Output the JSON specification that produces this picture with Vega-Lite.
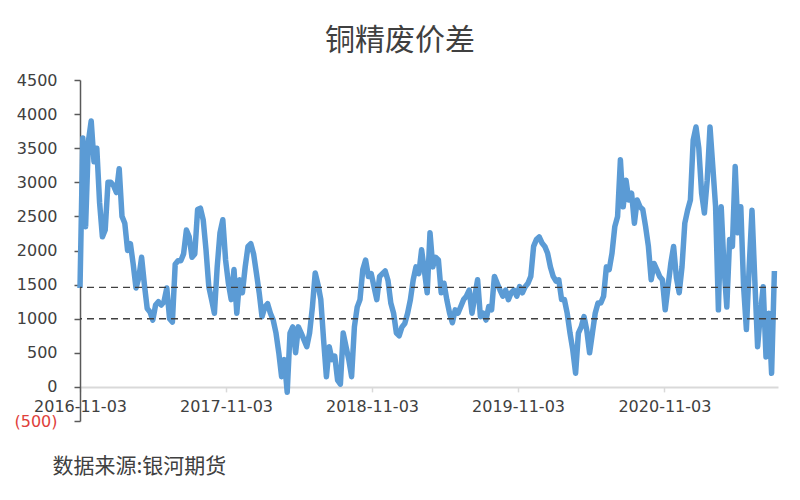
{
  "$schema": "https://vega.github.io/schema/vega-lite/v6.json",
  "width": 698,
  "height": 341,
  "autosize": {"type": "none"},
  "padding": {"left": 80, "top": 80, "right": 22, "bottom": 79},
  "background": "white",
  "title": {"text": "铜精废价差", "font": "Noto Sans CJK SC", "fontSize": 30, "fontWeight": "normal", "color": "#404040", "anchor": "middle", "dx": -29, "offset": 16},
  "config": {"view": {"stroke": null}, "axis": {"labelOverlap": false}},
  "layer": [
    {
      "data": {"values": [
        {"d":"2016-11-03","v":1450},{"d":"2016-11-10","v":3650},{"d":"2016-11-17","v":2350},{"d":"2016-11-24","v":3600},{"d":"2016-12-01","v":3900},{"d":"2016-12-08","v":3300},{"d":"2016-12-15","v":3500},{"d":"2016-12-22","v":2700},{"d":"2016-12-29","v":2200},
        {"d":"2017-01-05","v":2300},{"d":"2017-01-12","v":3000},{"d":"2017-01-19","v":3000},{"d":"2017-01-26","v":2950},{"d":"2017-02-02","v":2850},{"d":"2017-02-09","v":3200},{"d":"2017-02-16","v":2500},{"d":"2017-02-23","v":2400},{"d":"2017-03-02","v":2000},{"d":"2017-03-09","v":2100},{"d":"2017-03-16","v":1800},{"d":"2017-03-23","v":1450},{"d":"2017-03-30","v":1600},{"d":"2017-04-06","v":1900},{"d":"2017-04-13","v":1500},{"d":"2017-04-20","v":1150},{"d":"2017-04-27","v":1100},{"d":"2017-05-04","v":980},{"d":"2017-05-11","v":1200},{"d":"2017-05-18","v":1250},{"d":"2017-05-25","v":1200},{"d":"2017-06-01","v":1250},{"d":"2017-06-08","v":1450},{"d":"2017-06-15","v":1000},{"d":"2017-06-22","v":950},{"d":"2017-06-29","v":1800},{"d":"2017-07-06","v":1850},{"d":"2017-07-13","v":1850},{"d":"2017-07-20","v":1950},{"d":"2017-07-27","v":2300},{"d":"2017-08-03","v":2200},{"d":"2017-08-10","v":1900},{"d":"2017-08-17","v":1950},{"d":"2017-08-24","v":2600},{"d":"2017-08-31","v":2620},{"d":"2017-09-07","v":2450},{"d":"2017-09-14","v":2010},{"d":"2017-09-21","v":1470},{"d":"2017-09-28","v":1280},{"d":"2017-10-05","v":1080},{"d":"2017-10-12","v":1760},{"d":"2017-10-19","v":2260},{"d":"2017-10-26","v":2450},{"d":"2017-11-02","v":1860},{"d":"2017-11-09","v":1520},{"d":"2017-11-16","v":1280},{"d":"2017-11-23","v":1720},{"d":"2017-11-30","v":1080},{"d":"2017-12-07","v":1570},{"d":"2017-12-14","v":1380},{"d":"2017-12-21","v":1760},{"d":"2017-12-28","v":2060},
        {"d":"2018-01-04","v":2100},{"d":"2018-01-11","v":1950},{"d":"2018-01-18","v":1670},{"d":"2018-01-25","v":1380},{"d":"2018-02-01","v":1030},{"d":"2018-02-08","v":1170},{"d":"2018-02-15","v":1220},{"d":"2018-02-22","v":1080},{"d":"2018-03-01","v":980},{"d":"2018-03-08","v":790},{"d":"2018-03-15","v":500},{"d":"2018-03-22","v":150},{"d":"2018-03-29","v":400},{"d":"2018-04-05","v":-80},{"d":"2018-04-12","v":790},{"d":"2018-04-19","v":880},{"d":"2018-04-26","v":500},{"d":"2018-05-03","v":880},{"d":"2018-05-10","v":790},{"d":"2018-05-17","v":690},{"d":"2018-05-24","v":590},{"d":"2018-05-31","v":790},{"d":"2018-06-07","v":1170},{"d":"2018-06-14","v":1670},{"d":"2018-06-21","v":1500},{"d":"2018-06-28","v":1280},{"d":"2018-07-05","v":690},{"d":"2018-07-12","v":150},{"d":"2018-07-19","v":590},{"d":"2018-07-26","v":400},{"d":"2018-08-02","v":450},{"d":"2018-08-09","v":100},{"d":"2018-08-16","v":40},{"d":"2018-08-23","v":790},{"d":"2018-08-30","v":590},{"d":"2018-09-06","v":400},{"d":"2018-09-13","v":150},{"d":"2018-09-20","v":880},{"d":"2018-09-27","v":1170},{"d":"2018-10-04","v":1280},{"d":"2018-10-11","v":1720},{"d":"2018-10-18","v":1860},{"d":"2018-10-25","v":1620},{"d":"2018-11-01","v":1660},{"d":"2018-11-08","v":1470},{"d":"2018-11-15","v":1280},{"d":"2018-11-22","v":1620},{"d":"2018-11-29","v":1660},{"d":"2018-12-06","v":1700},{"d":"2018-12-13","v":1560},{"d":"2018-12-20","v":1230},{"d":"2018-12-27","v":1080},
        {"d":"2019-01-03","v":790},{"d":"2019-01-10","v":750},{"d":"2019-01-17","v":880},{"d":"2019-01-24","v":930},{"d":"2019-01-31","v":1080},{"d":"2019-02-07","v":1280},{"d":"2019-02-14","v":1570},{"d":"2019-02-21","v":1760},{"d":"2019-02-28","v":1660},{"d":"2019-03-07","v":2010},{"d":"2019-03-14","v":1700},{"d":"2019-03-21","v":1380},{"d":"2019-03-28","v":2260},{"d":"2019-04-04","v":1760},{"d":"2019-04-11","v":1900},{"d":"2019-04-18","v":1860},{"d":"2019-04-25","v":1380},{"d":"2019-05-02","v":1520},{"d":"2019-05-09","v":1280},{"d":"2019-05-16","v":1080},{"d":"2019-05-23","v":940},{"d":"2019-05-30","v":1130},{"d":"2019-06-06","v":1080},{"d":"2019-06-13","v":1180},{"d":"2019-06-20","v":1280},{"d":"2019-06-27","v":1330},{"d":"2019-07-04","v":1420},{"d":"2019-07-11","v":1080},{"d":"2019-07-18","v":1330},{"d":"2019-07-25","v":1570},{"d":"2019-08-01","v":1030},{"d":"2019-08-08","v":1080},{"d":"2019-08-15","v":980},{"d":"2019-08-22","v":1180},{"d":"2019-08-29","v":1130},{"d":"2019-09-05","v":1620},{"d":"2019-09-12","v":1520},{"d":"2019-09-19","v":1420},{"d":"2019-09-26","v":1330},{"d":"2019-10-03","v":1420},{"d":"2019-10-10","v":1280},{"d":"2019-10-17","v":1380},{"d":"2019-10-24","v":1420},{"d":"2019-10-31","v":1330},{"d":"2019-11-07","v":1470},{"d":"2019-11-14","v":1380},{"d":"2019-11-21","v":1470},{"d":"2019-11-28","v":1520},{"d":"2019-12-05","v":1620},{"d":"2019-12-12","v":2060},{"d":"2019-12-19","v":2160},{"d":"2019-12-26","v":2200},
        {"d":"2020-01-02","v":2110},{"d":"2020-01-09","v":2060},{"d":"2020-01-16","v":1960},{"d":"2020-01-23","v":1760},{"d":"2020-01-30","v":1620},{"d":"2020-02-06","v":1550},{"d":"2020-02-13","v":1570},{"d":"2020-02-20","v":1280},{"d":"2020-02-27","v":1280},{"d":"2020-03-05","v":1080},{"d":"2020-03-12","v":790},{"d":"2020-03-19","v":540},{"d":"2020-03-26","v":200},{"d":"2020-04-02","v":790},{"d":"2020-04-09","v":880},{"d":"2020-04-16","v":1030},{"d":"2020-04-23","v":830},{"d":"2020-04-30","v":500},{"d":"2020-05-07","v":790},{"d":"2020-05-14","v":1080},{"d":"2020-05-21","v":1230},{"d":"2020-05-28","v":1230},{"d":"2020-06-04","v":1330},{"d":"2020-06-11","v":1760},{"d":"2020-06-18","v":1720},{"d":"2020-06-25","v":1960},{"d":"2020-07-02","v":2350},{"d":"2020-07-09","v":2500},{"d":"2020-07-16","v":3330},{"d":"2020-07-23","v":2640},{"d":"2020-07-30","v":3030},{"d":"2020-08-06","v":2740},{"d":"2020-08-13","v":2840},{"d":"2020-08-20","v":2400},{"d":"2020-08-27","v":2740},{"d":"2020-09-03","v":2640},{"d":"2020-09-10","v":2600},{"d":"2020-09-17","v":2350},{"d":"2020-09-24","v":2060},{"d":"2020-10-01","v":1570},{"d":"2020-10-08","v":1810},{"d":"2020-10-15","v":1720},{"d":"2020-10-22","v":1620},{"d":"2020-10-29","v":1570},{"d":"2020-11-05","v":1130},{"d":"2020-11-12","v":1470},{"d":"2020-11-19","v":1810},{"d":"2020-11-26","v":2060},{"d":"2020-12-03","v":1600},{"d":"2020-12-10","v":1380},{"d":"2020-12-17","v":1760},{"d":"2020-12-24","v":2400},{"d":"2020-12-31","v":2590},
        {"d":"2021-01-07","v":2740},{"d":"2021-01-14","v":3620},{"d":"2021-01-21","v":3810},{"d":"2021-01-28","v":3500},{"d":"2021-02-04","v":2840},{"d":"2021-02-11","v":2550},{"d":"2021-02-18","v":3030},{"d":"2021-02-25","v":3810},{"d":"2021-03-04","v":3230},{"d":"2021-03-11","v":2640},{"d":"2021-03-18","v":1130},{"d":"2021-03-25","v":2640},{"d":"2021-04-01","v":1760},{"d":"2021-04-08","v":1170},{"d":"2021-04-15","v":2160},{"d":"2021-04-22","v":2060},{"d":"2021-04-29","v":3230},{"d":"2021-05-06","v":2260},{"d":"2021-05-13","v":2640},{"d":"2021-05-20","v":1470},{"d":"2021-05-27","v":840},{"d":"2021-06-03","v":1760},{"d":"2021-06-10","v":2590},{"d":"2021-06-17","v":1570},{"d":"2021-06-24","v":590},{"d":"2021-07-01","v":1080},{"d":"2021-07-08","v":1470},{"d":"2021-07-15","v":440},{"d":"2021-07-22","v":1080},{"d":"2021-07-29","v":200},{"d":"2021-08-05","v":1700}
      ]},
      "mark": {"type": "line", "color": "#5b9bd5", "strokeWidth": 5.5, "strokeJoin": "round"},
      "encoding": {
        "x": {
          "field": "d", "type": "temporal",
          "scale": {"type": "utc", "domain": [{"year": 2016, "month": 11, "date": 3, "utc": true}, {"year": 2021, "month": 8, "date": 14, "utc": true}]},
          "axis": {
            "values": [{"year": 2016, "month": 11, "date": 3, "utc": true}, {"year": 2017, "month": 11, "date": 3, "utc": true}, {"year": 2018, "month": 11, "date": 3, "utc": true}, {"year": 2019, "month": 11, "date": 3, "utc": true}, {"year": 2020, "month": 11, "date": 3, "utc": true}],
            "tickCount": 5,
            "labelExpr": "utcFormat(datum.value, '%Y-%m-%d')",
            "offset": -34.1, "grid": false,
            "domainColor": "#d9d9d9", "domainWidth": 2,
            "tickColor": "#d9d9d9", "tickSize": 5, "tickWidth": 1.5,
            "labelFont": "DejaVu Sans", "labelFontSize": 16, "labelColor": "#404040", "labelPadding": 7,
            "labelFlush": false, "labelOverlap": false,
            "title": "数据来源:银河期货", "titleFont": "Noto Sans CJK SC", "titleFontSize": 21, "titleFontWeight": "normal",
            "titleColor": "#404040", "titleX": -28, "titleY": 80, "titleAlign": "left", "titleBaseline": "middle", "titleAnchor": "start"
          }
        },
        "y": {
          "field": "v", "type": "quantitative",
          "scale": {"domain": [-500, 4500], "nice": false, "zero": false},
          "axis": {
            "values": [-500, 0, 500, 1000, 1500, 2000, 2500, 3000, 3500, 4000, 4500],
            "tickCount": 11,
            "labelExpr": "datum.value < 0 ? '(' + format(-datum.value, 'd') + ')' : format(datum.value, 'd')",
            "labelColor": {"condition": {"test": "datum.value < 0", "value": "#e0403a"}, "value": "#404040"},
            "labelFont": "DejaVu Sans", "labelFontSize": 16, "labelPadding": 17, "labelOverlap": false,
            "grid": false, "title": null,
            "domainColor": "#595959", "domainWidth": 1.5, "tickColor": "#595959", "tickSize": 6, "tickWidth": 1.5
          }
        }
      }
    },
    {
      "data": {"values": [{"r": 1460}, {"r": 1000}]},
      "mark": {"type": "rule", "color": "#404040", "strokeDash": [7, 5], "strokeWidth": 1.4},
      "encoding": {"y": {"field": "r", "type": "quantitative"}}
    }
  ]
}
